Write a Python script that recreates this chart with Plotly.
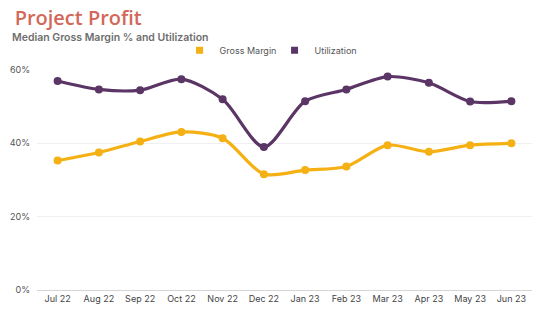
import plotly.graph_objects as go

months = ["Jul 22", "Aug 22", "Sep 22", "Oct 22", "Nov 22", "Dec 22",
          "Jan 23", "Feb 23", "Mar 23", "Apr 23", "May 23", "Jun 23"]
gross_margin = [35.3, 37.5, 40.5, 43.1, 41.4, 31.6, 32.7, 33.7, 39.5, 37.7, 39.5, 40.0]
utilization = [57.0, 54.7, 54.5, 57.5, 52.0, 39.0, 51.5, 54.7, 58.2, 56.5, 51.4, 51.5]
y_ticks = [0, 20, 40, 60]
y_tick_labels = ["0%", "20%", "40%", "60%"]

ORANGE = "#f5b014"
PURPLE = "#5a3565"

fig = go.Figure()
for name, vals, col in [("Utilization", utilization, PURPLE), ("Gross Margin", gross_margin, ORANGE)]:
    fig.add_trace(go.Scatter(
        x=months, y=vals, mode="lines+markers", name=name,
        line=dict(color=col, width=3.2, shape="spline", smoothing=0.8),
        marker=dict(color=col, size=8),
        showlegend=False,
    ))
for name, col in [("Gross Margin", ORANGE), ("Utilization", PURPLE)]:
    fig.add_trace(go.Scatter(
        x=[None], y=[None], mode="markers", name=name,
        marker=dict(color=col, size=7, symbol="square"),
        showlegend=True,
    ))

fig.update_layout(
    width=542, height=328,
    margin=dict(l=35, r=10, t=70, b=38),
    paper_bgcolor="white", plot_bgcolor="white",
    font=dict(family="Inter, Roboto, sans-serif", size=9, color="#555"),
    title=dict(text="Project Profit", x=0.027, xanchor="left", y=0.945, yanchor="middle",
               font=dict(family="Open Sans, sans-serif", size=20, weight=600, color="#d2685a")),
    legend=dict(orientation="h", x=0.288, xanchor="left", y=1.09, yanchor="middle",
                font=dict(size=9, color="#555"), itemwidth=30, traceorder="normal",
                entrywidth=50, bgcolor="rgba(0,0,0,0)"),
    annotations=[dict(text="Median Gross Margin % and Utilization", xref="paper", yref="paper",
                      x=-0.054, y=1.15, xanchor="left", yanchor="middle", showarrow=False,
                      font=dict(family="Inter, sans-serif", size=10.5, weight=600, color="#6e6e6e"))],
    hovermode=False,
)
fig.update_xaxes(
    type="category", range=[-0.5, 11.5], showgrid=False,
    showline=True, linecolor="#d5d5d5", linewidth=1, ticks="",
    tickfont=dict(size=9, color="#444"), fixedrange=True,
)
fig.update_yaxes(
    range=[0, 60], tickvals=y_ticks, ticktext=y_tick_labels,
    showgrid=True, gridcolor="#f0f0f2", gridwidth=1, zeroline=False,
    showline=False, ticks="", tickfont=dict(size=9, color="#555"),
    ticklabelstandoff=6, fixedrange=True,
)

fig.write_html("out.html")
